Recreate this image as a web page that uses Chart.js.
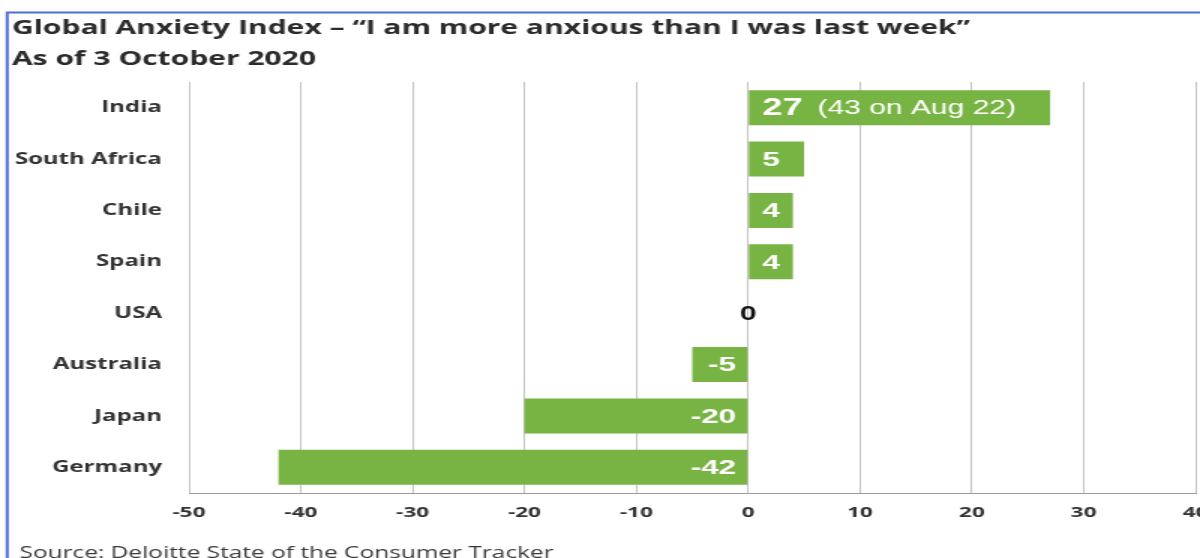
<!DOCTYPE html>
<html>
<head>
<meta charset="utf-8">
<script src="https://cdn.jsdelivr.net/npm/chart.js@4.4.0/dist/chart.umd.min.js"></script>
<style>
  html, body { margin: 0; padding: 0; background: #ffffff; overflow: hidden; }
  #wrap { position: absolute; left: 0; top: 0; width: 800px; height: 558px; transform: scaleX(1.5); transform-origin: 0 0; }
</style>
</head>
<body>
<div id="wrap"><canvas id="c"></canvas></div>
<script>
const titleLines = ['Global Anxiety Index \u2013 \u201cI am more anxious than I was last week\u201d', 'As of 3 October 2020'];
const sourceText = 'Source: Deloitte State of the Consumer Tracker';
const categories = ['India', 'South Africa', 'Chile', 'Spain', 'USA', 'Australia', 'Japan', 'Germany'];
const values = [27, 5, 4, 4, 0, -5, -20, -42];
const notes = ['(43 on Aug 22)', '', '', '', '', '', '', ''];
const xTickMin = -50;
const xTickMax = 40;
const xTickStep = 10;

const GREEN = '#78b443';
const AXIS_FONT = '"Open Sans", "DejaVu Sans", sans-serif';
const LABEL_FONT = '"Liberation Sans", Arial, sans-serif';

const decorPlugin = {
  id: 'decor',
  beforeDraw(chart) {
    const ctx = chart.ctx;
    ctx.save();
    ctx.fillStyle = '#ffffff';
    ctx.fillRect(0, 0, chart.width, chart.height);
    ctx.strokeStyle = '#4f6fd6';
    ctx.lineWidth = 2;
    ctx.beginPath();
    ctx.moveTo(4.8, chart.height + 5);
    ctx.lineTo(4.8, 12.5);
    ctx.lineTo(chart.width + 5, 12.5);
    ctx.stroke();
    ctx.restore();
  },
  afterDraw(chart) {
    const ctx = chart.ctx;
    ctx.save();
    ctx.fillStyle = '#2b2b2b';
    ctx.textAlign = 'left';
    ctx.textBaseline = 'alphabetic';
    ctx.font = 'bold 20px ' + AXIS_FONT;
    ctx.fillText(titleLines[0], 8, 34);
    ctx.fillText(titleLines[1], 8, 65);
    ctx.font = '16.3px ' + AXIS_FONT;
    ctx.fillStyle = '#3a3a3a';
    ctx.fillText(sourceText, 13, 558);
    ctx.restore();
  },
  afterDatasetsDraw(chart) {
    const ctx = chart.ctx;
    const meta = chart.getDatasetMeta(0);
    const xScale = chart.scales.x;
    ctx.save();
    ctx.textBaseline = 'middle';
    meta.data.forEach((bar, i) => {
      const v = values[i];
      const y = bar.y + 1;
      if (v > 0) {
        ctx.fillStyle = '#ffffff';
        ctx.textAlign = 'left';
        const big = notes[i] ? 24 : 21;
        ctx.font = 'bold ' + big + 'px ' + LABEL_FONT;
        const sx = bar.base + 9;
        ctx.fillText(String(v), sx, y);
        if (notes[i]) {
          const w = ctx.measureText(String(v)).width;
          ctx.font = '20px ' + LABEL_FONT;
          ctx.fillText(notes[i], sx + w + 10, y);
        }
      } else if (v < 0) {
        ctx.fillStyle = '#ffffff';
        ctx.textAlign = 'right';
        ctx.font = 'bold 21px ' + LABEL_FONT;
        ctx.fillText(String(v), bar.base - 7.5, y);
      } else {
        ctx.fillStyle = '#111111';
        ctx.textAlign = 'center';
        ctx.font = 'bold 20px ' + LABEL_FONT;
        ctx.fillText(String(v), xScale.getPixelForValue(0), y);
      }
    });
    ctx.restore();
  }
};

new Chart(document.getElementById('c'), {
  type: 'bar',
  data: {
    labels: categories,
    datasets: [{
      data: values,
      backgroundColor: GREEN,
      borderWidth: 0,
      barPercentage: 0.68,
      categoryPercentage: 1.0
    }]
  },
  options: {
    indexAxis: 'y',
    responsive: true,
    maintainAspectRatio: false,
    animation: false,
    devicePixelRatio: 1,
    layout: { padding: { top: 82, left: 0, right: 3, bottom: 25 } },
    plugins: {
      legend: { display: false },
      title: { display: false },
      tooltip: { enabled: false }
    },
    scales: {
      x: {
        type: 'linear',
        min: xTickMin,
        max: xTickMax,
        ticks: {
          stepSize: xTickStep,
          color: '#333333',
          font: { family: AXIS_FONT, size: 15, weight: 'bold' },
          padding: 11,
          maxRotation: 0
        },
        grid: { color: '#c4c4c4', lineWidth: 1, drawTicks: false },
        border: { display: true, color: '#9a9a9a', width: 1 },
        afterFit(scale) {
          scale.height = 40;
          scale.paddingLeft = 0;
          scale.paddingRight = 0;
        }
      },
      y: {
        ticks: {
          color: '#333333',
          font: { family: AXIS_FONT, size: 16, weight: 'bold' },
          padding: 18
        },
        grid: { display: false, drawTicks: false },
        border: { display: false },
        afterFit(scale) {
          scale.width = 126;
        }
      }
    }
  },
  plugins: [decorPlugin]
});
</script>
</body>
</html>
